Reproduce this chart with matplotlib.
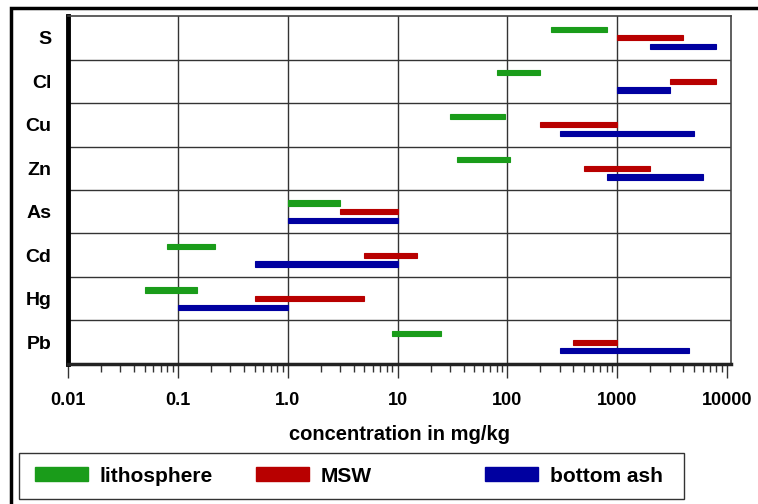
import matplotlib.pyplot as plt
from matplotlib.patches import Patch, Rectangle
from matplotlib.ticker import LogLocator, NullFormatter, FixedLocator, FixedFormatter

# elements, top to bottom
elementos = ['S', 'Cl', 'Cu', 'Zn', 'As', 'Cd', 'Hg', 'Pb']

# concentration ranges in mg/kg (low, high)
lito_min = [250, 80, 30, 35, 1.0, 0.08, 0.05, 9]
lito_max = [800, 200, 95, 105, 3.0, 0.22, 0.15, 25]
msw_min = [1000, 3000, 200, 500, 3.0, 5, 0.5, 400]
msw_max = [4000, 8000, 1000, 2000, 10, 15, 5, 1000]
ash_min = [2000, 1000, 300, 800, 1.0, 0.5, 0.1, 300]
ash_max = [8000, 3000, 5000, 6000, 10, 10, 1.0, 4500]

ticks_x = [0.01, 0.1, 1.0, 10, 100, 1000, 10000]
ticks_txt = ['0.01', '0.1', '1.0', '10', '100', '1000', '10000']

plt.rcParams['font.family'] = ['Liberation Sans', 'DejaVu Sans']
plt.rcParams['font.weight'] = 'bold'

fig = plt.figure(figsize=(7.58, 5.04), dpi=100)
ax = fig.add_axes([0.0897, 0.278, 0.8747, 0.690])

series = [
    (lito_min, lito_max, '#1a9c1a', -0.2, 'lithosphere'),
    (msw_min, msw_max, '#b80000', 0.0, 'MSW'),
    (ash_min, ash_max, '#0000a0', 0.2, 'bottom ash'),
]
y = list(range(len(elementos)))
for lo, hi, col, off, nombre in series:
    ancho = [h - l for l, h in zip(lo, hi)]
    ax.barh([v + off for v in y], ancho, left=lo, height=0.12, color=col,
            edgecolor=col, linewidth=0.8, zorder=3)

ax.set_xscale('log')
ax.set_xlim(0.01, 10870)
ax.set_ylim(len(elementos) - 0.5, -0.5)

ax.xaxis.set_major_locator(FixedLocator(ticks_x))
ax.xaxis.set_major_formatter(FixedFormatter(ticks_txt))
ax.xaxis.set_minor_locator(LogLocator(base=10, subs=range(2, 10)))
ax.xaxis.set_minor_formatter(NullFormatter())
ax.tick_params(axis='x', which='major', length=10, width=1, labelsize=13, pad=10, color='#333333')
ax.tick_params(axis='x', which='minor', length=5.5, width=1, color='#333333')

ax.set_yticks(y)
ax.set_yticklabels(elementos, fontsize=14)
ax.tick_params(axis='y', length=0, pad=12)

# grid: vertical at decades, horizontal between rows
for xv in ticks_x[1:-1]:
    ax.axvline(xv, color='#333333', lw=1, zorder=1)
for k in range(1, len(elementos)):
    ax.axhline(k - 0.5, color='#333333', lw=1, zorder=1)

for s in ['top', 'right']:
    ax.spines[s].set_color('#444444')
    ax.spines[s].set_linewidth(1.2)
ax.spines['left'].set_linewidth(3.5)
ax.spines['left'].set_color('black')
ax.spines['bottom'].set_linewidth(2.5)
ax.spines['bottom'].set_color('#222222')

ax.set_xlabel('concentration in mg/kg', fontsize=14.5, fontweight='bold', labelpad=12)

# legend box and its three entries
fig.patches.append(Rectangle((19 / 758, 1 - 499 / 504), 665 / 758, 46 / 504,
                             transform=fig.transFigure, fill=False,
                             edgecolor='#333333', linewidth=1))
pos_leg = [35, 256, 485]
for (_, _, col, _, nombre), px in zip(series, pos_leg):
    h = Patch(facecolor=col, edgecolor=col, label=nombre)
    fig.legend(handles=[h], loc='center left', bbox_to_anchor=(px / 758, 1 - 476 / 504),
               frameon=False, fontsize=15, handlelength=2.55, handleheight=0.65,
               handletextpad=0.55, borderpad=0, borderaxespad=0)

# outer frame around the figure
fig.patches.append(Rectangle((0.0145, -0.01), 1.0, 1.0 - 0.006, transform=fig.transFigure,
                             fill=False, edgecolor='black', linewidth=2.5))

plt.savefig('out.png', dpi=100)
